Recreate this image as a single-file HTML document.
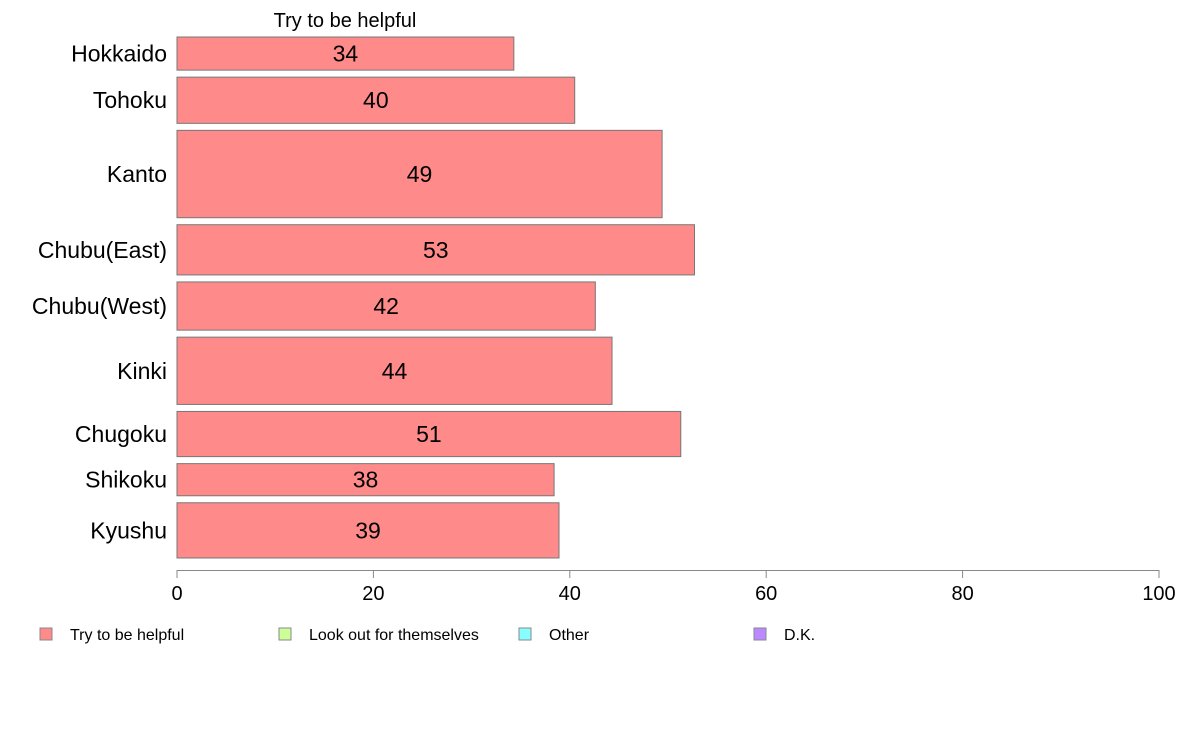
<!DOCTYPE html>
<html><head><meta charset="utf-8"><style>
body{margin:0;background:#fff;width:1188px;height:736px;overflow:hidden;font-family:"Liberation Sans",sans-serif}
</style></head><body>
<svg id="chart" width="1188" height="736" xmlns="http://www.w3.org/2000/svg" font-family="Liberation Sans, sans-serif"></svg>
<script>
const categories=["Hokkaido","Tohoku","Kanto","Chubu(East)","Chubu(West)","Kinki","Chugoku","Shikoku","Kyushu"];
const values=[34.3,40.5,49.4,52.7,42.6,44.3,51.3,38.4,38.9];
const labels=["34","40","49","53","42","44","51","38","39"];
const sampleWeights=[33,46,87,50,48,67,45,32,55];
const ticks=[0,20,40,60,80,100];
const legendItems=["Try to be helpful","Look out for themselves","Other","D.K."];
const legendColors=["#ff8a8a","#ccff99","#88ffff","#bb88ff"];

const svg=document.getElementById('chart');
const NS="http://www.w3.org/2000/svg";
function mk(t,a,txt){const e=document.createElementNS(NS,t);for(const k in a)e.setAttribute(k,a[k]);if(txt!=null)e.textContent=txt;svg.appendChild(e);return e;}
const x0=177,x1=1159,yTop=37,yBot=558,gap=7;
const xs=v=>x0+(v/100)*(x1-x0);
const totalW=sampleWeights.reduce((a,b)=>a+b,0);
const avail=(yBot-yTop)-gap*(categories.length-1);
let t=mk('text',{x:345,y:27,'font-size':20,'text-anchor':'middle'},"Try to be helpful");


let y=yTop;
categories.forEach((c,i)=>{
  const h=avail*sampleWeights[i]/totalW;
  const r=mk('rect',{x:x0,y:y,width:xs(values[i])-x0,height:h,fill:'#ff8a8a',stroke:'#777','stroke-width':1});
  
  
  const cy=y+h/2;
  const vl=mk('text',{x:(x0+xs(values[i]))/2,y:cy+8,'font-size':23,'text-anchor':'middle'},labels[i]);
  
  
  const cl=mk('text',{x:167,y:cy+8,'font-size':23,'text-anchor':'end'},c);
  
  
  y+=h+gap;
});
const ax=mk('line',{x1:x0,x2:x1,y1:570.5,y2:570.5,stroke:'#888','stroke-width':1});


ticks.forEach(v=>{
  const tk=mk('line',{x1:xs(v),x2:xs(v),y1:570,y2:578,stroke:'#888'});
  
  
  const tl=mk('text',{x:xs(v),y:600,'font-size':20,'text-anchor':'middle'},String(v));
  
  
});
const lx=[40,279,519,754];
legendItems.forEach((s,i)=>{
  const b=mk('rect',{x:lx[i],y:628,width:12,height:12,fill:legendColors[i],stroke:'#888'});
  
  
  const lt=mk('text',{x:lx[i]+30,y:640,'font-size':16},s);
  
  
});
</script>
</body></html>
